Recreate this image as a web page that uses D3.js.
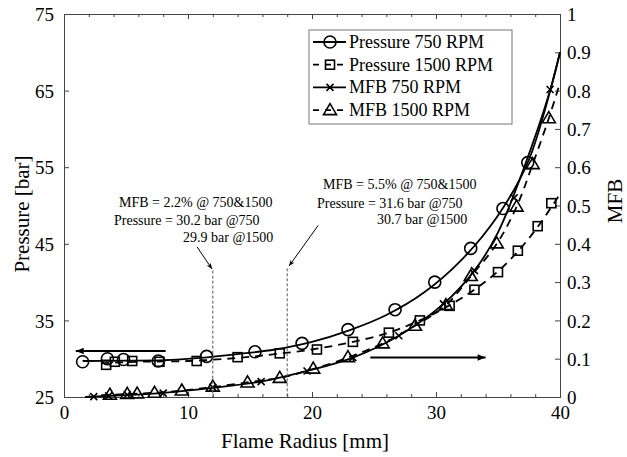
<!DOCTYPE html>
<html><head><meta charset="utf-8">
<script src="https://cdn.jsdelivr.net/npm/d3@7"></script>
<style>
body{margin:0;background:#fff;}
svg{display:block;}
svg text{font-family:"Liberation Serif","Times New Roman",Times,"DejaVu Serif",serif !important;fill:#000;}
</style></head>
<body>
<svg id="c" width="627" height="457"></svg>
<script>
// ---- data ----
const xTicks = [0, 10, 20, 30, 40];
const pTicks = [25, 35, 45, 55, 65, 75];
const mTicks = [0, 0.1, 0.2, 0.3, 0.4, 0.5, 0.6, 0.7, 0.8, 0.9, 1];
const mTickLabels = ["0","0.1","0.2","0.3","0.4","0.5","0.6","0.7","0.8","0.9","1"];

const p750 = [[1.5,29.6],[3.5,30.0],[4.8,29.9],[7.6,29.7],[11.5,30.3],[15.4,30.9],[19.2,32.0],[22.9,33.8],[26.7,36.4],[29.9,40.0],[32.8,44.4],[35.4,49.6],[37.4,55.6]];
const p1500 = [[3.4,29.2],[4.1,29.6],[5.5,29.7],[7.7,29.6],[10.7,29.7],[14.0,30.2],[17.4,30.7],[20.4,31.2],[23.3,32.2],[26.2,33.4],[28.7,35.0],[31.1,36.9],[33.1,39.0],[35.0,41.3],[36.6,44.1],[38.2,47.3],[39.3,50.3]];
const m750 = [[2.4,0.001],[3.6,0.003],[5.1,0.006],[8.0,0.01],[12.0,0.025],[15.9,0.04],[19.6,0.068],[23.3,0.103],[27.0,0.16],[30.6,0.243],[33.1,0.33],[36.3,0.52],[39.2,0.803]];
const m1500 = [[3.7,0.006],[5.1,0.008],[5.9,0.009],[7.3,0.011],[9.5,0.017],[12.0,0.027],[14.8,0.038],[17.4,0.05],[20.1,0.074],[22.9,0.104],[25.7,0.14],[28.3,0.186],[30.8,0.24],[32.8,0.316],[34.9,0.401],[36.5,0.497],[37.8,0.608],[39.1,0.728]];

// fitted curves drawn through the markers
const p750Fit = [[1.5,29.7],[5,29.75],[8,29.8],[11,30.1],[14,30.6],[17,31.2],[20,32.2],[23,33.7],[26,35.7],[29,38.6],[32,42.8],[35,48.7],[37.5,56],[40,70]];
const p1500Fit = [[3,29.4],[6,29.6],[10,29.7],[14,30.1],[17,30.6],[20,31.2],[23,32.1],[26,33.3],[28.7,35.0],[31,36.9],[33,38.9],[35,41.4],[36.6,44],[38.2,47.2],[40,51.5]];
const m750Fit = [[1.7,0],[5,0.005],[8,0.011],[12,0.024],[16,0.041],[19.6,0.068],[23.3,0.103],[27,0.16],[30.6,0.243],[33.1,0.33],[35,0.43],[37,0.59],[39.2,0.80],[40,0.9]];
const m1500Fit = [[3,0.005],[6,0.009],[9,0.015],[12,0.026],[15,0.039],[17.4,0.05],[20,0.072],[23,0.104],[25.7,0.14],[28.3,0.186],[30.8,0.24],[32.8,0.315],[34.9,0.40],[36.5,0.497],[37.8,0.608],[39.1,0.728],[40,0.82]];

const legendLabels = ["Pressure 750 RPM","Pressure 1500 RPM","MFB 750 RPM","MFB 1500 RPM"];
const annot1 = ["MFB = 2.2% @ 750&1500","Pressure = 30.2 bar @750","29.9 bar @1500"];
const annot2 = ["MFB = 5.5% @ 750&1500","Pressure = 31.6 bar @750","30.7 bar @1500"];
const markerLines = [12, 18];          // flame radius of the dashed markers
const xTitle = "Flame Radius [mm]", yTitle = "Pressure [bar]", y2Title = "MFB";

// ---- layout ----
const FONT = '"Liberation Serif","Times New Roman",Times,"DejaVu Serif",serif';
const svg = d3.select("#c");
const L = 64, R = 560, T = 14, B = 397;
const x = d3.scaleLinear([0, 40], [L, R]);
const yP = d3.scaleLinear([25, 75], [B, T]);
const yM = d3.scaleLinear([0, 1], [B, T]);

const defs = svg.append("defs");
defs.append("marker").attr("id","ahBig").attr("viewBox","0 0 10 10").attr("refX",10).attr("refY",5)
  .attr("markerWidth",6).attr("markerHeight",4).attr("markerUnits","strokeWidth").attr("orient","auto")
  .append("path").attr("d","M0,1 L10,5 L0,9 z").attr("fill","#000");
defs.append("marker").attr("id","ahSmall").attr("viewBox","0 0 10 10").attr("refX",10).attr("refY",5)
  .attr("markerWidth",9).attr("markerHeight",6).attr("markerUnits","strokeWidth").attr("orient","auto")
  .append("path").attr("d","M0,1 L10,5 L0,9 L3,5 z").attr("fill","#000");

// ---- axes ----
const axCol = "#444";
const minorX = d3.range(2,40,2).filter(v=>v%10);
const gx = svg.append("g").attr("transform",`translate(0,${B})`)
  .call(d3.axisBottom(x).tickValues(xTicks).tickSize(-5).tickPadding(9).tickFormat(d3.format("d")));
const gxMinor = svg.append("g").attr("transform",`translate(0,${B})`)
  .call(d3.axisBottom(x).tickValues(minorX).tickSize(-3).tickFormat(""));
const gxt = svg.append("g").attr("transform",`translate(0,${T})`)
  .call(d3.axisTop(x).tickValues(xTicks).tickSize(-5).tickFormat(""));
const gxtMinor = svg.append("g").attr("transform",`translate(0,${T})`)
  .call(d3.axisTop(x).tickValues(minorX).tickSize(-3).tickFormat(""));
const gy = svg.append("g").attr("transform",`translate(${L},0)`)
  .call(d3.axisLeft(yP).tickValues(pTicks).tickSize(-5).tickPadding(10).tickFormat(d3.format("d")));
const gy2 = svg.append("g").attr("transform",`translate(${R},0)`)
  .call(d3.axisRight(yM).tickValues(mTicks).tickSize(-5).tickPadding(7).tickFormat((d,i)=>mTickLabels[i]));
[gx,gxMinor,gxt,gxtMinor,gy,gy2].forEach(g=>{
  g.attr("font-family",FONT).attr("font-size",19);
  g.selectAll("path.domain").attr("stroke",axCol).attr("stroke-width",1);
  g.selectAll(".tick line").attr("stroke",axCol);
  g.selectAll("text").attr("font-family",FONT).attr("font-size",19).attr("fill","#000");
});
gx.selectAll(".tick text").attr("dy","0.71em");
gy.selectAll(".tick text").attr("dy","0.35em");
gy2.selectAll(".tick text").attr("dy","0.35em");

// titles
const tt = (sel)=>sel.attr("font-family",FONT).attr("font-size",21).attr("text-anchor","middle");
tt(svg.append("text")).attr("x",305).attr("y",448).text(xTitle);
tt(svg.append("text")).attr("transform",`translate(29,214) rotate(-90)`).text(yTitle);
tt(svg.append("text")).attr("transform",`translate(622,201) rotate(-90)`).text(y2Title);

// ---- curves ----
const lineP = d3.line().x(d=>x(d[0])).y(d=>yP(d[1])).curve(d3.curveCatmullRom.alpha(0.5));
const lineM = d3.line().x(d=>x(d[0])).y(d=>yM(d[1])).curve(d3.curveCatmullRom.alpha(0.5));
const plot = svg.append("g");
plot.append("path").attr("d",lineP(p750Fit)).attr("fill","none").attr("stroke","#000").attr("stroke-width",1.8);
plot.append("path").attr("d",lineP(p1500Fit)).attr("fill","none").attr("stroke","#000").attr("stroke-width",1.8).attr("stroke-dasharray","8,6");
plot.append("path").attr("d",lineM(m750Fit)).attr("fill","none").attr("stroke","#000").attr("stroke-width",1.8);
plot.append("path").attr("d",lineM(m1500Fit)).attr("fill","none").attr("stroke","#000").attr("stroke-width",1.8).attr("stroke-dasharray","8,6");

// ---- markers ----
function drawMarker(g, type, cx, cy){
  if(type==="circle") g.append("circle").attr("cx",cx).attr("cy",cy).attr("r",6).attr("fill","none").attr("stroke","#000").attr("stroke-width",1.6);
  else if(type==="square") g.append("rect").attr("x",cx-4.5).attr("y",cy-4.5).attr("width",9).attr("height",9).attr("fill","none").attr("stroke","#000").attr("stroke-width",1.6);
  else if(type==="x") g.append("path").attr("d",`M${cx-3.5},${cy-3.5}L${cx+3.5},${cy+3.5}M${cx-3.5},${cy+3.5}L${cx+3.5},${cy-3.5}`).attr("stroke","#000").attr("stroke-width",1.6);
  else if(type==="tri") g.append("path").attr("d",`M${cx},${cy-6.5}L${cx+6.5},${cy+4.5}L${cx-6.5},${cy+4.5}Z`).attr("fill","none").attr("stroke","#000").attr("stroke-width",1.6);
}
const mg = svg.append("g");
p750.forEach(d=>drawMarker(mg,"circle",x(d[0]),yP(d[1])));
p1500.forEach(d=>drawMarker(mg,"square",x(d[0]),yP(d[1])));
m750.forEach(d=>drawMarker(mg,"x",x(d[0]),yM(d[1])));
m1500.forEach(d=>drawMarker(mg,"tri",x(d[0]),yM(d[1])));

// ---- annotations ----
markerLines.forEach((r,i)=>{
  svg.append("line").attr("x1",x(r)).attr("x2",x(r)).attr("y1",yP(i?41.8:41.5)).attr("y2",B)
    .attr("stroke","#555").attr("stroke-width",1).attr("stroke-dasharray","3,2");
});
svg.append("line").attr("x1",x(10.73)).attr("y1",yP(44.6)).attr("x2",x(11.94)).attr("y2",yP(41.7))
  .attr("stroke","#000").attr("stroke-width",1).attr("marker-end","url(#ahSmall)");
svg.append("line").attr("x1",x(20.5)).attr("y1",yP(47.4)).attr("x2",x(18.15)).attr("y2",yP(42.1))
  .attr("stroke","#000").attr("stroke-width",1).attr("marker-end","url(#ahSmall)");
// axis-direction arrows
svg.append("line").attr("x1",x(8.2)).attr("y1",yP(31.0)).attr("x2",x(0.95)).attr("y2",yP(31.0))
  .attr("stroke","#000").attr("stroke-width",2).attr("marker-end","url(#ahBig)");
svg.append("line").attr("x1",x(24.7)).attr("y1",yM(0.103)).attr("x2",x(34.0)).attr("y2",yM(0.103))
  .attr("stroke","#000").attr("stroke-width",2).attr("marker-end","url(#ahBig)");

const a1x = [119,114,183], a1y = [207,225,241.5];
annot1.forEach((t,i)=>svg.append("text").attr("x",a1x[i]).attr("y",a1y[i]).attr("font-family",FONT).attr("font-size",14).text(t));
const a2x = [323,317,377], a2y = [189,207.5,224];
annot2.forEach((t,i)=>svg.append("text").attr("x",a2x[i]).attr("y",a2y[i]).attr("font-family",FONT).attr("font-size",14).text(t));

// ---- legend ----
const lg = svg.append("g");
lg.append("rect").attr("x",309).attr("y",30).attr("width",203).attr("height",94).attr("fill","#fff").attr("stroke","#777").attr("stroke-width",1);
const legTypes = ["circle","square","x","tri"], legDash = [null,"6,6",null,"6,6"];
legendLabels.forEach((t,i)=>{
  const yy = 42 + i*22.7;
  lg.append("line").attr("x1",313).attr("x2",346).attr("y1",yy).attr("y2",yy).attr("stroke","#000").attr("stroke-width",1.8)
    .attr("stroke-dasharray",legDash[i]);
  drawMarker(lg,legTypes[i],330,yy);
  lg.append("text").attr("x",349).attr("y",yy+6).attr("font-family",FONT).attr("font-size",18).text(t);
});
</script>
</body></html>
